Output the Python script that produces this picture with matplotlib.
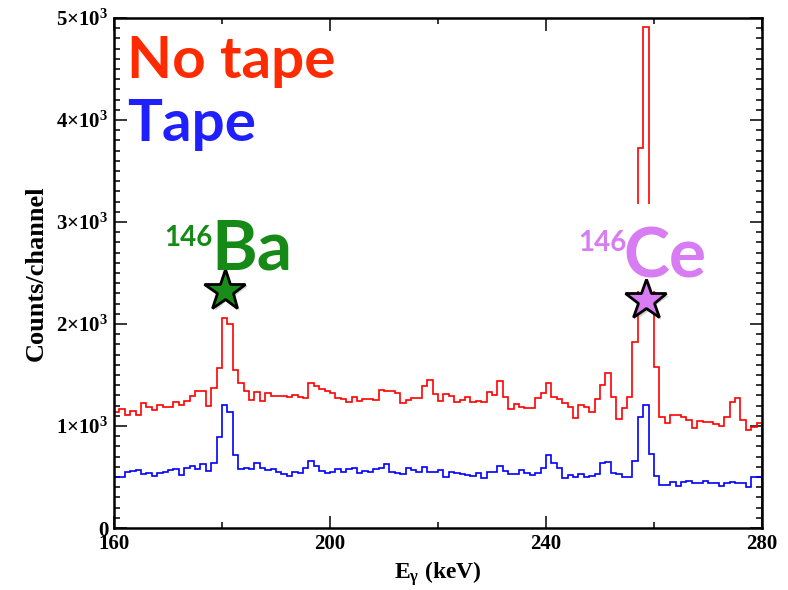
import matplotlib
matplotlib.use("Agg")
import matplotlib.pyplot as plt
import matplotlib.patheffects as pe
from matplotlib.patches import Rectangle
from matplotlib.ticker import MultipleLocator, FixedLocator, FixedFormatter
import numpy as np

# 1 keV channels, 160-280 keV
e_lo, e_hi = 160, 280
edges = np.arange(e_lo, e_hi + 1, 1)

no_tape = [
    1134, 1166, 1107, 1147, 1107, 1222, 1189, 1156, 1205, 1189,
    1183, 1238, 1209, 1245, 1297, 1346, 1346, 1196, 1369, 1565,
    2055, 1999, 1548, 1418, 1346, 1254, 1336, 1248, 1320, 1297,
    1297, 1297, 1287, 1303, 1281, 1277, 1424, 1392, 1359, 1345,
    1320, 1271, 1268, 1238, 1281, 1248, 1261, 1261, 1254, 1352,
    1346, 1346, 1326, 1228, 1254, 1271, 1271, 1395, 1450, 1318,
    1247, 1313, 1294, 1232, 1254, 1281, 1238, 1245, 1238, 1336,
    1303, 1444, 1287, 1163, 1212, 1183, 1173, 1173, 1277, 1326,
    1418, 1287, 1264, 1222, 1183, 1075, 1205, 1189, 1140, 1264,
    1401, 1522, 1281, 1068, 1173, 1287, 1826, 3724, 4913, 2600,
    1581, 1091, 1026, 1107, 1107, 1085, 1058, 977, 1052, 1036,
    1042, 1019, 1003, 1091, 1238, 1277, 1058, 960, 993, 1032,
]
tape = [
    503, 503, 546, 562, 568, 529, 536, 513, 542, 552,
    568, 578, 519, 591, 608, 575, 624, 559, 634, 895,
    1202, 1140, 715, 575, 585, 578, 634, 585, 568, 575,
    552, 526, 513, 552, 536, 585, 660, 611, 559, 540,
    552, 575, 552, 575, 585, 536, 559, 546, 578, 585,
    627, 546, 536, 529, 591, 568, 546, 601, 552, 550,
    568, 503, 552, 536, 526, 519, 510, 536, 487, 546,
    546, 608, 562, 529, 529, 568, 536, 519, 542, 590,
    715, 640, 585, 487, 519, 497, 529, 497, 513, 526,
    634, 643, 542, 529, 503, 503, 657, 1091, 1205, 728,
    510, 421, 421, 454, 415, 454, 464, 444, 444, 464,
    444, 438, 412, 444, 448, 438, 444, 405, 497, 497,
]

# peak markers
star_e = [180.5, 258.5]
star_y = [2330, 2235]
star_col = ["#1a8c1a", "#d77cf2"]

x_ticks = [160, 200, 240, 280]
y_ticks = [0, 1000, 2000, 3000, 4000, 5000]
y_labels = ["0"] + [r"$\mathbf{%d{\times}10^{3}}$" % k for k in range(1, 6)]

plt.rcParams["mathtext.fontset"] = "custom"
plt.rcParams["mathtext.rm"] = "Liberation Serif"
plt.rcParams["mathtext.bf"] = "Liberation Serif:bold"
plt.rcParams["mathtext.it"] = "Liberation Serif:italic"

W, H = 788, 590
fig = plt.figure(figsize=(W / 100, H / 100), dpi=100)
ax = fig.add_axes([114 / W, 1 - 528 / H, (762 - 114) / W, (528 - 18) / H])

ax.stairs(no_tape, edges, color="#ff0000", lw=1.2, zorder=2)
ax.stairs(tape, edges, color="#0000ff", lw=1.2, zorder=2)

ax.set_xlim(e_lo, e_hi)
ax.set_ylim(0, 5000)

ax.xaxis.set_major_locator(FixedLocator(x_ticks))
ax.xaxis.set_minor_locator(MultipleLocator(20))
ax.yaxis.set_major_locator(FixedLocator(y_ticks))
ax.yaxis.set_major_formatter(FixedFormatter(y_labels))
ax.yaxis.set_minor_locator(MultipleLocator(100))
ax.tick_params(which="both", direction="in", top=True, right=True, width=1.1)
ax.tick_params(which="major", length=9)
ax.tick_params(which="minor", length=4.5)
ax.tick_params(axis="both", labelsize=15, pad=4)
for lab in ax.get_xticklabels() + ax.get_yticklabels():
    lab.set_family("Liberation Serif")
    lab.set_weight("bold")
for s in ax.spines.values():
    s.set_linewidth(1.8)

ax.set_xlabel(r"$\mathbf{E_{\gamma}}$ (keV)", family="Liberation Serif",
              weight="bold", fontsize=17, labelpad=4)
ax.set_ylabel("Counts/channel", family="Liberation Serif", weight="bold",
              fontsize=19, labelpad=6)

# white box behind the 146Ce label hides the top of the peak
ax.add_patch(Rectangle((245.5, 2320), 25.5, 860, facecolor="white",
                       edgecolor="none", zorder=3))

shadow = [pe.SimplePatchShadow(offset=(2, -2), shadow_rgbFace="gray", alpha=0.35),
          pe.Normal()]
for e, y, c in zip(star_e, star_y, star_col):
    ax.plot([e], [y], marker="*", ms=31, mfc=c, mec="black", mew=2,
            ls="none", zorder=5, path_effects=shadow)


def px(x, y):
    return x / W, 1 - y / H


sans = ["Lato", "DejaVu Sans"]
fig.text(*px(127, 78), "No tape", color="#ff2a00", fontsize=42,
         family=sans, weight="bold", va="baseline")
fig.text(*px(127, 141), "Tape", color="#1f1fff", fontsize=42,
         family=sans, weight="bold", va="baseline")
fig.text(*px(164, 246), "146", color="#168a16", fontsize=20,
         family=sans, weight="bold", va="baseline")
fig.text(*px(211, 270), "Ba", color="#168a16", fontsize=50,
         family=sans, weight="bold", va="baseline")
fig.text(*px(578, 251), "146", color="#d77cf2", fontsize=20,
         family=sans, weight="bold", va="baseline")
fig.text(*px(623, 277), "Ce", color="#d77cf2", fontsize=50,
         family=sans, weight="bold", va="baseline")

fig.savefig("out.png", dpi=100)
